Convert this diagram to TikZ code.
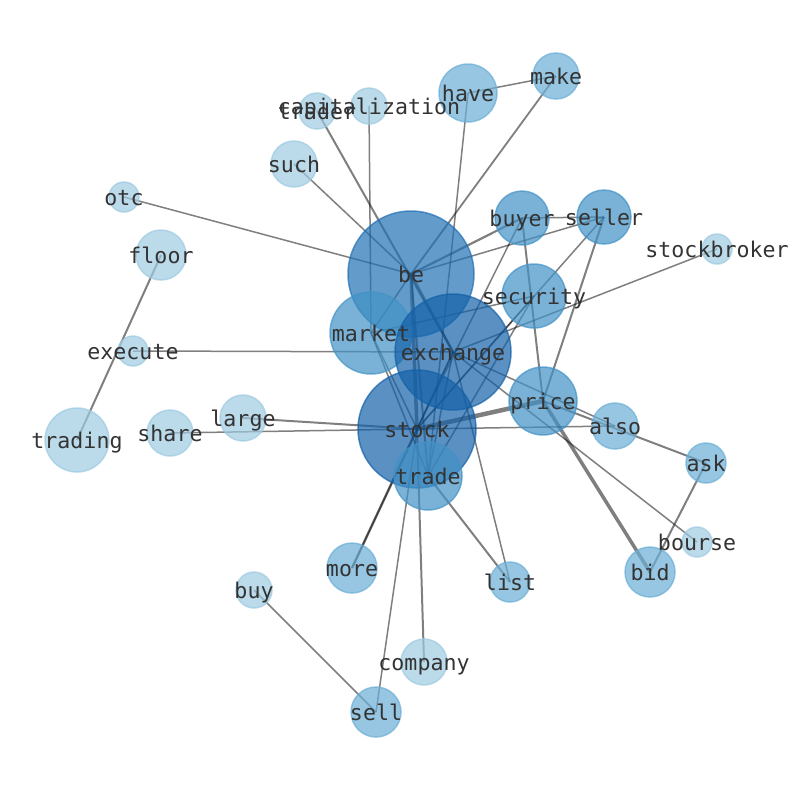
\documentclass[tikz,border=0pt]{standalone}
\usepackage{fontspec}
\newfontfamily\labfont{DejaVu Sans Mono}
\usetikzlibrary{backgrounds}
\definecolor{cA}{RGB}{158,202,225}
\definecolor{cB}{RGB}{107,174,214}
\definecolor{cC}{RGB}{66,146,198}
\definecolor{cD}{RGB}{33,113,181}
\definecolor{cE}{RGB}{20,97,168}
\begin{document}
\begin{tikzpicture}[x=1pt,y=-1pt,
  bub/.style 2 args={circle, inner sep=0pt, minimum size=#1pt, fill=#2, draw=#2,
    fill opacity=0.7, draw opacity=0.7, line width=1.5pt},
  lab/.style={font=\labfont\fontsize{21.6}{26}\selectfont, text=black!80,
    inner sep=0pt, anchor=base, yshift=-8.5pt},
  ed/.style={draw=black, draw opacity=0.5, line width=#1pt}]
\useasboundingbox (0,0) rectangle (794,790);
% bubbles
\node[bub={126}{cD}] (be) at (411,274) {};
\node[bub={82}{cC}] (market) at (371,333) {};
\node[bub={116}{cE}] (exchange) at (453,352) {};
\node[bub={118}{cE}] (stock) at (417,429) {};
\node[bub={68}{cC}] (trade) at (428,476) {};
\node[bub={68}{cC}] (price) at (543,401) {};
\node[bub={64}{cC}] (security) at (534,296) {};
\node[bub={54}{cC}] (buyer) at (522,218) {};
\node[bub={54}{cC}] (seller) at (604,217) {};
\node[bub={58}{cB}] (have) at (468,93) {};
\node[bub={46}{cB}] (make) at (556,76) {};
\node[bub={46}{cB}] (also) at (615,426) {};
\node[bub={40}{cB}] (ask) at (706,463) {};
\node[bub={50}{cB}] (bid) at (650,572) {};
\node[bub={40}{cB}] (list) at (510,582) {};
\node[bub={50}{cB}] (more) at (352,568) {};
\node[bub={50}{cB}] (sell) at (376,712) {};
\node[bub={46}{cA}] (company) at (424,662) {};
\node[bub={36}{cA}] (buy) at (254,590) {};
\node[bub={30}{cA}] (bourse) at (697,542) {};
\node[bub={64}{cA}] (trading) at (77,440) {};
\node[bub={46}{cA}] (share) at (170,433) {};
\node[bub={46}{cA}] (large) at (243,418) {};
\node[bub={30}{cA}] (execute) at (133,351) {};
\node[bub={50}{cA}] (floor) at (161,255) {};
\node[bub={30}{cA}] (otc) at (124,197) {};
\node[bub={46}{cA}] (such) at (294,164) {};
\node[bub={36}{cA}] (trader) at (317,111) {};
\node[bub={36}{cA}] (capitalization) at (369,106) {};
\node[bub={30}{cA}] (stockbroker) at (717,249) {};
% edges
\begin{pgfonlayer}{background}
\draw[ed=1.5] (have.center) -- (make.center);
\draw[ed=1.5] (have.center) -- (trade.center);
\draw[ed=1.8] (make.center) -- (be.center);
\draw[ed=2] (trader.center) -- (exchange.center);
\draw[ed=2.5] (be.center) -- (exchange.center);
\draw[ed=1.5] (capitalization.center) -- (market.center);
\draw[ed=1.5] (such.center) -- (be.center);
\draw[ed=1.5] (otc.center) -- (be.center);
\draw[ed=2.2] (be.center) -- (buyer.center);
\draw[ed=1.5] (be.center) -- (seller.center);
\draw[ed=3.5] (be.center) -- (stock.center);
\draw[ed=2] (be.center) -- (trade.center);
\draw[ed=1.5] (be.center) -- (market.center);
\draw[ed=1.5] (buyer.center) -- (seller.center);
\draw[ed=1.5] (buyer.center) -- (stock.center);
\draw[ed=2] (buyer.center) -- (price.center);
\draw[ed=1.5] (seller.center) -- (stock.center);
\draw[ed=2] (seller.center) -- (price.center);
\draw[ed=1.5] (security.center) -- (market.center);
\draw[ed=1.5] (security.center) -- (stock.center);
\draw[ed=1.5] (security.center) -- (trade.center);
\draw[ed=1.5] (stockbroker.center) -- (exchange.center);
\draw[ed=1.5] (execute.center) -- (exchange.center);
\draw[ed=2] (floor.center) -- (trading.center);
\draw[ed=2] (large.center) -- (stock.center);
\draw[ed=1.5] (share.center) -- (stock.center);
\draw[ed=4.5] (stock.center) -- (price.center);
\draw[ed=1.5] (stock.center) -- (also.center);
\draw[ed=1.5] (exchange.center) -- (also.center);
\draw[ed=2] (price.center) -- (ask.center);
\draw[ed=2] (ask.center) -- (bid.center);
\draw[ed=3.5] (price.center) -- (bid.center);
\draw[ed=1.5] (exchange.center) -- (bourse.center);
\draw[ed=1.5] (exchange.center) -- (list.center);
\draw[ed=2] (trade.center) -- (list.center);
\draw[ed=2.5] (more.center) -- (stock.center);
\draw[ed=1.5] (more.center) -- (exchange.center);
\draw[ed=1.5] (sell.center) -- (stock.center);
\draw[ed=2] (company.center) -- (stock.center);
\draw[ed=1.5] (buy.center) -- (sell.center);
\draw[ed=1.5] (market.center) -- (stock.center);
\draw[ed=1.5] (market.center) -- (trade.center);
\draw[ed=1.5] (exchange.center) -- (stock.center);
\draw[ed=1.5] (exchange.center) -- (trade.center);
\end{pgfonlayer}
% labels
\foreach \n in {be,market,exchange,stock,trade,price,security,buyer,seller,have,make,also,ask,bid,list,more,sell,company,buy,bourse,trading,share,large,execute,floor,otc,such,trader,capitalization,stockbroker}
  {\node[lab] (\n-t) at (\n) {\n};}
\end{tikzpicture}
\end{document}
